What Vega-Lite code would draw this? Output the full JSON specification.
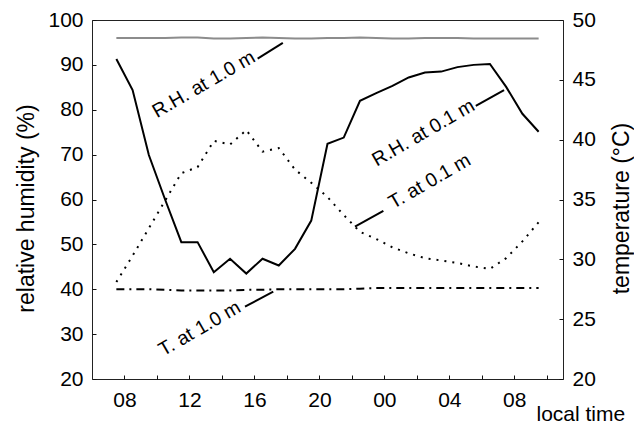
{
  "$schema": "https://vega.github.io/schema/vega-lite/v6.json",
  "width": 471,
  "height": 359,
  "autosize": {"type": "none"},
  "padding": {"left": 92, "top": 20, "right": 71, "bottom": 44},
  "background": "white",
  "config": {
    "font": "Liberation Sans",
    "view": {"stroke": "#222", "strokeWidth": 1},
    "axis": {
      "grid": false,
      "domain": false,
      "tickSize": -4,
      "tickColor": "#111",
      "tickWidth": 1,
      "labelFont": "Liberation Sans",
      "labelFontSize": 21,
      "labelColor": "#000",
      "titleFont": "Liberation Sans",
      "titleFontSize": 23,
      "titleFontWeight": "normal",
      "titleColor": "#000"
    },
    "axisLeft": {"labelPadding": 13, "titleAngle": 270, "titleX": -59, "titleY": 188, "titleAlign": "center", "titleBaseline": "alphabetic"},
    "axisRight": {"labelPadding": 13, "titleAngle": 270, "titleX": 65, "titleY": 188, "titleAlign": "center", "titleBaseline": "alphabetic"},
    "axisBottom": {"labelPadding": 31.7, "labelBaseline": "alphabetic", "titleX": 444, "titleY": 41, "titleAlign": "left", "titleBaseline": "alphabetic"}
  },
  "datasets": {
    "hourly": [
      {"hour": 7.5, "rh_1m": 96.0, "rh_01m": 91.3, "t_01m": 28.1, "t_1m": 27.5},
      {"hour": 8.5, "rh_1m": 96.0, "rh_01m": 84.4, "t_01m": 30.3, "t_1m": 27.5},
      {"hour": 9.5, "rh_1m": 96.0, "rh_01m": 69.9, "t_01m": 32.6, "t_1m": 27.5},
      {"hour": 10.5, "rh_1m": 96.0, "rh_01m": 60.0, "t_01m": 34.9, "t_1m": 27.45},
      {"hour": 11.5, "rh_1m": 96.1, "rh_01m": 50.5, "t_01m": 37.2, "t_1m": 27.4},
      {"hour": 12.5, "rh_1m": 96.1, "rh_01m": 50.5, "t_01m": 37.7, "t_1m": 27.4},
      {"hour": 13.5, "rh_1m": 95.9, "rh_01m": 43.8, "t_01m": 39.9, "t_1m": 27.4},
      {"hour": 14.5, "rh_1m": 95.9, "rh_01m": 46.8, "t_01m": 39.6, "t_1m": 27.4},
      {"hour": 15.5, "rh_1m": 96.0, "rh_01m": 43.5, "t_01m": 40.8, "t_1m": 27.45},
      {"hour": 16.5, "rh_1m": 96.1, "rh_01m": 46.8, "t_01m": 39.0, "t_1m": 27.45},
      {"hour": 17.5, "rh_1m": 96.0, "rh_01m": 45.3, "t_01m": 39.3, "t_1m": 27.5},
      {"hour": 18.5, "rh_1m": 95.9, "rh_01m": 49.0, "t_01m": 37.5, "t_1m": 27.5},
      {"hour": 19.5, "rh_1m": 95.9, "rh_01m": 55.3, "t_01m": 36.4, "t_1m": 27.5},
      {"hour": 20.5, "rh_1m": 96.0, "rh_01m": 72.4, "t_01m": 35.2, "t_1m": 27.5},
      {"hour": 21.5, "rh_1m": 96.0, "rh_01m": 73.8, "t_01m": 33.7, "t_1m": 27.5},
      {"hour": 22.5, "rh_1m": 96.1, "rh_01m": 82.0, "t_01m": 32.3, "t_1m": 27.55},
      {"hour": 23.5, "rh_1m": 96.0, "rh_01m": 83.7, "t_01m": 31.7, "t_1m": 27.6},
      {"hour": 24.5, "rh_1m": 95.9, "rh_01m": 85.3, "t_01m": 31.0, "t_1m": 27.6},
      {"hour": 25.5, "rh_1m": 95.9, "rh_01m": 87.2, "t_01m": 30.5, "t_1m": 27.6},
      {"hour": 26.5, "rh_1m": 96.0, "rh_01m": 88.3, "t_01m": 30.1, "t_1m": 27.6},
      {"hour": 27.5, "rh_1m": 96.0, "rh_01m": 88.5, "t_01m": 29.9, "t_1m": 27.6},
      {"hour": 28.5, "rh_1m": 96.0, "rh_01m": 89.5, "t_01m": 29.7, "t_1m": 27.6},
      {"hour": 29.5, "rh_1m": 95.9, "rh_01m": 90.0, "t_01m": 29.4, "t_1m": 27.6},
      {"hour": 30.5, "rh_1m": 95.9, "rh_01m": 90.2, "t_01m": 29.2, "t_1m": 27.6},
      {"hour": 31.5, "rh_1m": 95.9, "rh_01m": 85.1, "t_01m": 30.1, "t_1m": 27.6},
      {"hour": 32.5, "rh_1m": 95.9, "rh_01m": 79.1, "t_01m": 31.5, "t_1m": 27.6},
      {"hour": 33.5, "rh_1m": 95.9, "rh_01m": 75.1, "t_01m": 33.1, "t_1m": 27.6}
    ],
    "notes": [
      {"label": "R.H. at 1.0 m", "hour": 10.0, "rh": 78.1},
      {"label": "R.H. at 0.1 m", "hour": 23.53, "rh": 67.3},
      {"label": "T. at 0.1 m", "hour": 24.55, "rh": 57.8},
      {"label": "T. at 1.0 m", "hour": 10.39, "rh": 25.0}
    ],
    "leaders": [
      {"hour": 16.2, "rh": 91.4, "hour2": 17.75, "rh2": 94.9},
      {"hour": 29.63, "rh": 80.84, "hour2": 31.37, "rh2": 84.4},
      {"hour": 22.19, "rh": 53.94, "hour2": 23.94, "rh2": 57.44},
      {"hour": 15.42, "rh": 36.11, "hour2": 17.16, "rh2": 39.45}
    ]
  },
  "encoding": {
    "x": {
      "field": "hour",
      "type": "quantitative",
      "scale": {"domain": [6, 35], "nice": false, "zero": false},
      "axis": {
        "title": "local time",
        "titleFontSize": 21,
        "values": [8, 10, 12, 14, 16, 18, 20, 22, 24, 26, 28, 30, 32, 34],
        "labelExpr": "datum.value % 4 === 0 ? ((datum.value % 24) < 10 ? '0' : '') + (datum.value % 24) : ''"
      }
    }
  },
  "layer": [
    {
      "layer": [
        {
          "data": {"name": "hourly"},
          "mark": {"type": "line", "color": "#8c8c8c", "strokeWidth": 2},
          "encoding": {
            "y": {"field": "rh_1m", "type": "quantitative", "scale": {"domain": [20, 100], "nice": false, "zero": false},
                  "axis": {"orient": "left", "title": "relative humidity (%)", "values": [20, 30, 40, 50, 60, 70, 80, 90, 100]}}
          }
        },
        {
          "data": {"name": "hourly"},
          "mark": {"type": "line", "color": "#000", "strokeWidth": 2},
          "encoding": {
            "y": {"field": "rh_01m", "type": "quantitative", "scale": {"domain": [20, 100], "nice": false, "zero": false},
                  "axis": {"orient": "left", "title": "relative humidity (%)", "values": [20, 30, 40, 50, 60, 70, 80, 90, 100]}}
          }
        },
        {
          "data": {"name": "leaders"},
          "mark": {"type": "rule", "color": "#000", "strokeWidth": 2},
          "encoding": {
            "x2": {"field": "hour2"},
            "y": {"field": "rh", "type": "quantitative", "scale": {"domain": [20, 100], "nice": false, "zero": false},
                  "axis": {"orient": "left", "title": "relative humidity (%)", "values": [20, 30, 40, 50, 60, 70, 80, 90, 100]}},
            "y2": {"field": "rh2"}
          }
        },
        {
          "data": {"name": "notes"},
          "mark": {"type": "text", "align": "left", "baseline": "alphabetic", "angle": 330, "fontSize": 19.5, "font": "Liberation Sans", "color": "#000"},
          "encoding": {
            "y": {"field": "rh", "type": "quantitative", "scale": {"domain": [20, 100], "nice": false, "zero": false},
                  "axis": {"orient": "left", "title": "relative humidity (%)", "values": [20, 30, 40, 50, 60, 70, 80, 90, 100]}},
            "text": {"field": "label"}
          }
        }
      ]
    },
    {
      "layer": [
        {
          "data": {"name": "hourly"},
          "mark": {"type": "line", "color": "#000", "strokeWidth": 2, "strokeDash": [2, 6]},
          "encoding": {
            "y": {"field": "t_01m", "type": "quantitative", "scale": {"domain": [20, 50], "nice": false, "zero": false},
                  "axis": {"orient": "right", "title": "temperature (°C)", "values": [20, 25, 30, 35, 40, 45, 50]}}
          }
        },
        {
          "data": {"name": "hourly"},
          "mark": {"type": "line", "color": "#000", "strokeWidth": 2, "strokeDash": [8, 5, 2, 5]},
          "encoding": {
            "y": {"field": "t_1m", "type": "quantitative", "scale": {"domain": [20, 50], "nice": false, "zero": false},
                  "axis": {"orient": "right", "title": "temperature (°C)", "values": [20, 25, 30, 35, 40, 45, 50]}}
          }
        }
      ]
    }
  ],
  "resolve": {"scale": {"y": "independent"}}
}
